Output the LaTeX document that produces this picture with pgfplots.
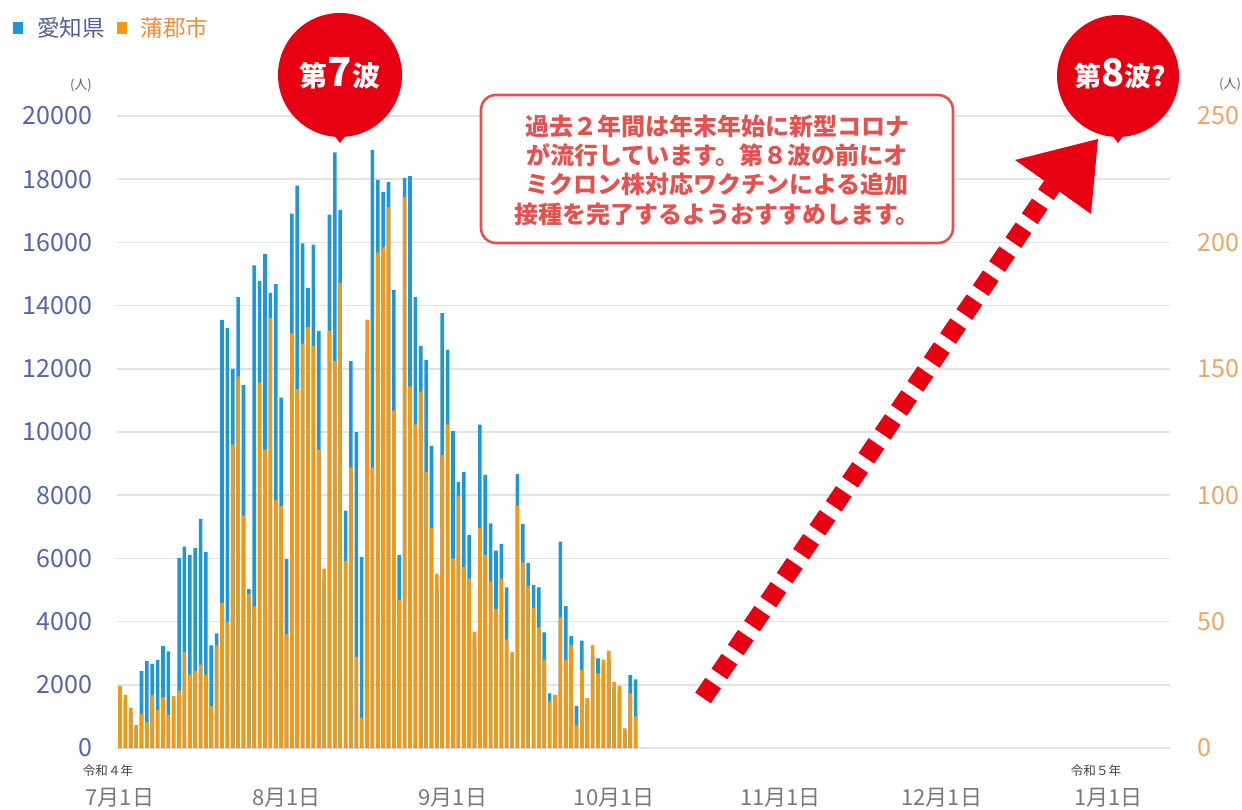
\documentclass[border=0pt]{standalone}
\usepackage{fontspec}
\setmainfont{Noto Sans CJK JP}
\usepackage{pgfplots}
\pgfplotsset{compat=1.18}
\usepackage{pgfplotstable}
\definecolor{barblue}{RGB}{30,150,215}
\definecolor{barorange}{RGB}{243,152,20}
\definecolor{tickblue}{RGB}{88,100,168}
\definecolor{tickorange}{RGB}{235,165,100}
\definecolor{legblue}{RGB}{85,95,150}
\definecolor{legorange}{RGB}{238,140,55}
\definecolor{callred}{RGB}{230,0,18}
\definecolor{boxred}{RGB}{228,82,80}
\definecolor{labgray}{RGB}{120,120,120}

\pgfplotstableread{
d blue orange
0 1800 24.5
1 1500 21
2 1150 16
3 650 9
4 2430 13.4
5 2750 10.3
6 2660 21
7 2785 15
8 3230 20
9 3060 13
10 1500 20.5
11 6010 22.6
12 6370 38
13 6110 29
14 6330 30.5
15 7250 33
16 6200 29
17 3250 16.6
18 3630 40.6
19 13550 57.4
20 13290 50
21 12000 120
22 14270 147
23 11480 92
24 5030 61
25 15270 56
26 14780 144.5
27 15640 118
28 14400 170
29 14680 98
30 11090 95.7
31 5980 45
32 16910 164
33 17800 142
34 15970 160
35 14560 166.5
36 15930 159
37 13190 118
38 5300 71
39 16880 165
40 18850 153
41 17030 184
42 7510 74
43 12240 111
44 10000 36
45 6040 12
46 12500 169.5
47 18930 111
48 17980 196
49 17600 198
50 17910 214
51 14500 133.5
52 6100 58.5
53 18040 218
54 18100 143
55 14270 128
56 12720 141
57 12280 109
58 9560 87
59 5000 69
60 13760 116
61 12600 128
62 10030 75
63 8420 99.5
64 8740 71.5
65 6740 67
66 3400 46
67 10230 87
68 8640 76.3
69 7110 65.8
70 6245 54.9
71 6460 67
72 5085 43
73 2800 38
74 8670 96
75 7090 73.3
76 5860 64
77 5160 55.5
78 5085 47.7
79 3660 35
80 1730 18.3
81 1500 21
82 6530 51.7
83 4490 35
84 3545 40.7
85 1330 9.1
86 3400 30.9
87 1400 19.7
88 2900 40.7
89 2840 29.5
90 2600 35
91 2800 38.5
92 1900 26.2
93 1800 24.5
94 550 7.8
95 2310 21.6
96 2170 12.4
}\datatable

\begin{document}
\begin{tikzpicture}
\useasboundingbox (0,0) rectangle (621pt,404.5pt);
\pgfplotsset{
  basechart/.style={
    at={(58.65pt,30.5pt)}, anchor=south west,
    scale only axis, width=526.35pt, height=316pt,
    xmin=-0.5, xmax=195.5,
    ybar, bar width=1.8pt,
    axis line style={draw=none}, major tick style={draw=none},
    /pgf/number format/assume math mode=true,
    /pgf/number format/1000 sep={},
    scaled y ticks=false,
  }
}
\begin{axis}[basechart,
  ymin=0, ymax=20000, ytick={0,2000,...,20000},
  ymajorgrids, grid style={draw=gray!22, line width=0.8pt},
  yticklabel style={font=\fontsize{12.5}{14}\selectfont, text=tickblue, anchor=east, inner sep=0pt, xshift=-12.5pt},
  xtick={0,31,62,92,123,153,184},
  xticklabels={7月1日,8月1日,9月1日,10月1日,11月1日,12月1日,1月1日},
  xticklabel style={font=\fontsize{11}{13}\selectfont, text=labgray, anchor=base, inner sep=0pt, yshift=-24.5pt},
]
\addplot[fill=barblue, draw=none] table[x=d, y=blue] {\datatable};
\end{axis}
\begin{axis}[basechart,
  ymin=0, ymax=250, ytick={0,50,...,250},
  xtick=\empty, yticklabel pos=right,
  yticklabel style={font=\fontsize{12.5}{14}\selectfont, text=tickorange, anchor=west, inner sep=0pt, xshift=13.5pt},
]
\addplot[fill=barorange, draw=none] table[x=d, y=orange] {\datatable};
\end{axis}

\begin{scope}[x=0.5pt, y=-0.5pt, shift={(0,404.5pt)}]
% legend
\fill[barblue] (13,22) rectangle (23,34);
\node[anchor=west, inner sep=0pt, text=legblue, font=\fontsize{11.3}{12}\selectfont] at (37,28) {愛知県};
\fill[barorange] (117,22) rectangle (127,34);
\node[anchor=west, inner sep=0pt, text=legorange, font=\fontsize{11.3}{12}\selectfont] at (140,28) {蒲郡市};
% units
\node[inner sep=0pt, text=labgray!80!black, font=\fontsize{6.5}{7}\selectfont] at (81,85) {(人)};
\node[inner sep=0pt, text=labgray!80!black, font=\fontsize{6.5}{7}\selectfont] at (1230,84) {(人)};
% era labels
\node[inner sep=0pt, text=black!75, font=\fontsize{6.3}{7}\selectfont] at (108,771) {令和４年};
\node[inner sep=0pt, text=black!75, font=\fontsize{6.3}{7}\selectfont] at (1096,771) {令和５年};
% text box
\draw[boxred, fill=white, line width=1.3pt, rounded corners=7.5pt] (481,95) rectangle (953,243);
\node[align=center, text=boxred, inner sep=0pt, font=\fontsize{12}{14.7}\selectfont\bfseries] at (717,170)
 {過去２年間は年末年始に新型コロナ\\が流行しています。第８波の前にオ\\ミクロン株対応ワクチンによる追加\\接種を完了するようおすすめします。};
% arrow
\draw[callred, line width=9.5pt, dash pattern=on 9pt off 5.5pt] (703,698) -- (1052,186);
\fill[callred] (1098,139) -- (1015,160) -- (1091,214) -- cycle;
% wave 7 bubble
\fill[callred] (340,75) circle (62);
\fill[callred] (330,130) -- (350,130) -- (340,143) -- cycle;
\node[text=white, inner sep=0pt, font=\bfseries] at (340,73)
 {\fontsize{14}{14}\selectfont 第\fontsize{20}{20}\selectfont 7\fontsize{14}{14}\selectfont 波};
% wave 8 bubble
\fill[callred] (1118,76) circle (61);
\fill[callred] (1108,130) -- (1128,130) -- (1118,143) -- cycle;
\node[text=white, inner sep=0pt, font=\bfseries] at (1120,74)
 {\fontsize{13.5}{14}\selectfont 第\fontsize{19}{19}\selectfont 8\fontsize{13.5}{14}\selectfont 波?};
\end{scope}
\end{tikzpicture}
\end{document}
